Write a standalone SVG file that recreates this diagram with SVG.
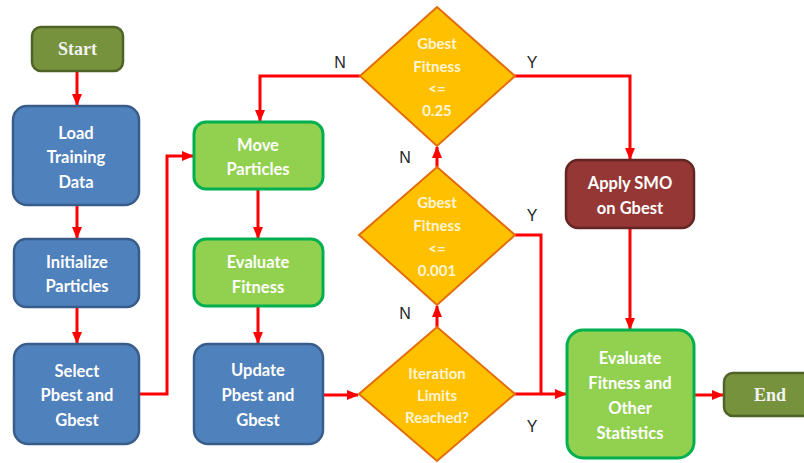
<svg xmlns="http://www.w3.org/2000/svg" width="804" height="463" viewBox="0 0 804 463">
<defs>
<marker id="ah" markerUnits="userSpaceOnUse" markerWidth="12" markerHeight="12" viewBox="0 0 12 12" refX="11" refY="6" orient="auto">
<path d="M0,1 L12,6 L0,11 Z" fill="#ff0000"/>
</marker>
<style>
.blue{fill:#4f81bd;stroke:#385d8a;stroke-width:2.5}
.green{fill:#92d050;stroke:#00b050;stroke-width:3}
.olive{fill:#76923c;stroke:#4f6228;stroke-width:2.5}
.red{fill:#953735;stroke:#632523;stroke-width:2.5}
.dia{fill:#ffc000;stroke:#e36c09;stroke-width:2}
.t{font-family:Lato,"Open Sans","Liberation Sans",sans-serif;font-weight:bold;font-size:16.5px;fill:#ffffff;text-anchor:middle;dominant-baseline:central}
.td{font-family:Lato,"Open Sans","Liberation Sans",sans-serif;font-weight:bold;font-size:15px;fill:#fff5d6;text-anchor:middle;dominant-baseline:central}
.ts{font-family:"Liberation Serif","Times New Roman",serif;font-weight:bold;font-size:18px;fill:#f2f2f2;text-anchor:middle;dominant-baseline:central}
.lbl{font-family:"Liberation Sans",Arial,sans-serif;font-size:16px;fill:#262626;text-anchor:middle;dominant-baseline:central}
.c{fill:none;stroke:#ff0000;stroke-width:3}
</style>
</defs>
<rect width="804" height="463" fill="#ffffff"/>
<g id="connectors">
<path class="c" d="M77,71 V105" marker-end="url(#ah)"/>
<path class="c" d="M77,205 V238" marker-end="url(#ah)"/>
<path class="c" d="M77,307 V343" marker-end="url(#ah)"/>
<path class="c" d="M139,394 H167 V156 H193" marker-end="url(#ah)"/>
<path class="c" d="M258,189 V238" marker-end="url(#ah)"/>
<path class="c" d="M258,306 V343" marker-end="url(#ah)"/>
<path class="c" d="M323,395 H358" marker-end="url(#ah)"/>
<path class="c" d="M437,327 V306" marker-end="url(#ah)"/>
<path class="c" d="M437,167 V147" marker-end="url(#ah)"/>
<path class="c" d="M360,76 H260 V121" marker-end="url(#ah)"/>
<path class="c" d="M515,76 H630 V159" marker-end="url(#ah)"/>
<path class="c" d="M515,235 H541 V394"/>
<path class="c" d="M515,394 H566" marker-end="url(#ah)"/>
<path class="c" d="M630,228 V329" marker-end="url(#ah)"/>
<path class="c" d="M694,395 H723" marker-end="url(#ah)"/>
</g>
<g id="start"><rect class="olive" x="32" y="27" width="91" height="44" rx="9"/><text class="ts" x="77.5" y="49">Start</text></g>
<g id="load"><rect class="blue" x="13" y="106" width="126" height="99" rx="14"/>
<text class="t" x="76" y="133">Load</text><text class="t" x="76" y="157">Training</text><text class="t" x="76" y="182">Data</text></g>
<g id="init"><rect class="blue" x="14" y="239" width="125" height="68" rx="12"/>
<text class="t" x="77" y="262">Initialize</text><text class="t" x="77" y="286">Particles</text></g>
<g id="select"><rect class="blue" x="14" y="344" width="125" height="100" rx="14"/>
<text class="t" x="77" y="371">Select</text><text class="t" x="77" y="395">Pbest and</text><text class="t" x="77" y="420">Gbest</text></g>
<g id="move"><rect class="green" x="194" y="122" width="129" height="67" rx="12"/>
<text class="t" x="258" y="145">Move</text><text class="t" x="258" y="169">Particles</text></g>
<g id="evaluate"><rect class="green" x="194" y="239" width="129" height="67" rx="12"/>
<text class="t" x="258" y="262">Evaluate</text><text class="t" x="258" y="287">Fitness</text></g>
<g id="update"><rect class="blue" x="194" y="344" width="129" height="100" rx="14"/>
<text class="t" x="258" y="370">Update</text><text class="t" x="258" y="395">Pbest and</text><text class="t" x="258" y="420">Gbest</text></g>
<g id="d1"><polygon class="dia" points="437,7 515,76 437,146 360,76"/>
<text class="td" x="437" y="43">Gbest</text><text class="td" x="437" y="66">Fitness</text><text class="td" x="437" y="88">&lt;=</text><text class="td" x="437" y="110">0.25</text></g>
<g id="d2"><polygon class="dia" points="437,167 515,235 437,305 359,235"/>
<text class="td" x="437" y="202">Gbest</text><text class="td" x="437" y="225">Fitness</text><text class="td" x="437" y="248">&lt;=</text><text class="td" x="437" y="270">0.001</text></g>
<g id="d3"><polygon class="dia" points="437,327 515,394 437,461 359,394"/>
<text class="td" x="437" y="373">Iteration</text><text class="td" x="437" y="395">Limits</text><text class="td" x="437" y="417">Reached?</text></g>
<g id="smo"><rect class="red" x="566" y="160" width="128" height="68" rx="12"/>
<text class="t" x="630" y="183">Apply SMO</text><text class="t" x="630" y="208">on Gbest</text></g>
<g id="stats"><rect class="green" x="567" y="330" width="127" height="128" rx="16"/>
<text class="t" x="630" y="358">Evaluate</text><text class="t" x="630" y="383">Fitness and</text><text class="t" x="630" y="408">Other</text><text class="t" x="630" y="433">Statistics</text></g>
<g id="end"><rect class="olive" x="724" y="373" width="92" height="43" rx="9"/><text class="ts" x="770" y="395">End</text></g>
<g id="labels">
<text class="lbl" x="340" y="62">N</text>
<text class="lbl" x="532" y="62">Y</text>
<text class="lbl" x="405" y="157">N</text>
<text class="lbl" x="532" y="215">Y</text>
<text class="lbl" x="405" y="313">N</text>
<text class="lbl" x="532" y="426">Y</text>
</g>
</svg>
